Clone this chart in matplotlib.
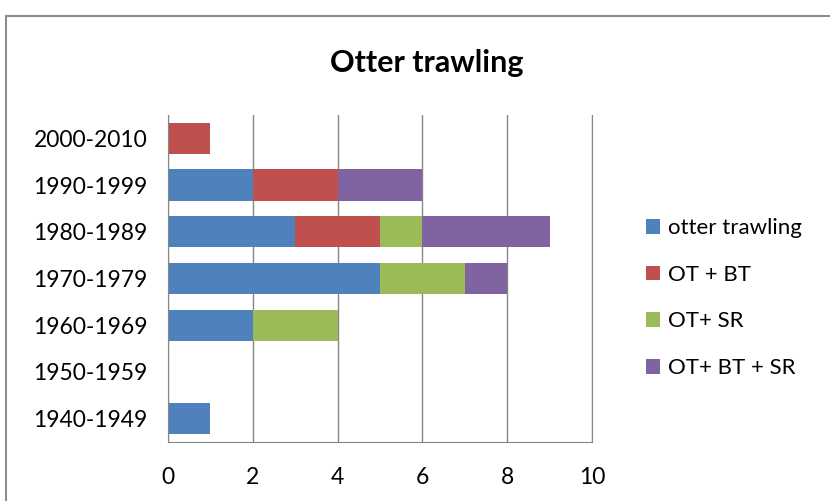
import matplotlib.pyplot as plt
from matplotlib.patches import Rectangle

decades = ["1940-1949", "1950-1959", "1960-1969", "1970-1979",
           "1980-1989", "1990-1999", "2000-2010"]
otter = [1, 0, 2, 5, 3, 2, 0]
ot_bt = [0, 0, 0, 0, 2, 2, 1]
ot_sr = [0, 0, 2, 2, 1, 0, 0]
ot_bt_sr = [0, 0, 0, 1, 3, 2, 0]

series = [
    ("otter trawling", otter, "#4F81BD"),
    ("OT + BT", ot_bt, "#C0504D"),
    ("OT+ SR", ot_sr, "#9BBB59"),
    ("OT+ BT + SR", ot_bt_sr, "#8064A2"),
]

plt.rcParams["font.family"] = ["Lato", "DejaVu Sans"]

fig = plt.figure(figsize=(8.3, 5.01), dpi=100)
ax = fig.add_axes([0.2024, 0.1178, 0.5109, 0.6527])

# chart frame
fig.patches.append(Rectangle((6 / 830, -0.1), 1.2, 1 - 16 / 501 + 0.1,
                             transform=fig.transFigure, fill=False,
                             edgecolor="#8c8c8c", linewidth=1.5))

y = range(len(decades))
left = [0] * len(decades)
handles = []
for name, vals, color in series:
    b = ax.barh(y, vals, left=left, height=0.667, color=color, label=name)
    handles.append(b)
    left = [l + v for l, v in zip(left, vals)]

ax.set_xlim(0, 10)
ax.set_ylim(-0.5, len(decades) - 0.5)
ax.set_xticks(range(0, 11, 2))
ax.set_yticks(list(y))
ax.set_yticklabels(decades)
ax.tick_params(length=0, labelsize=16.5)
ax.tick_params(axis="y", pad=15)
ax.tick_params(axis="x", pad=18)
ax.xaxis.grid(True, color="#868686", linewidth=1)
ax.set_axisbelow(True)
ax.spines["top"].set_visible(False)
for s in ["left", "right", "bottom"]:
    ax.spines[s].set_color("#868686")

fig.text(0.514, 0.875, "Otter trawling", ha="center", va="center",
         fontsize=22, fontweight="bold")

fig.legend(handles=handles, loc="center left",
           bbox_to_anchor=(0.754, 0.405), frameon=False, fontsize=16,
           handlelength=0.65, handleheight=0.65, handletextpad=0.35,
           labelspacing=1.2)

fig.savefig("out.png", dpi=100)
